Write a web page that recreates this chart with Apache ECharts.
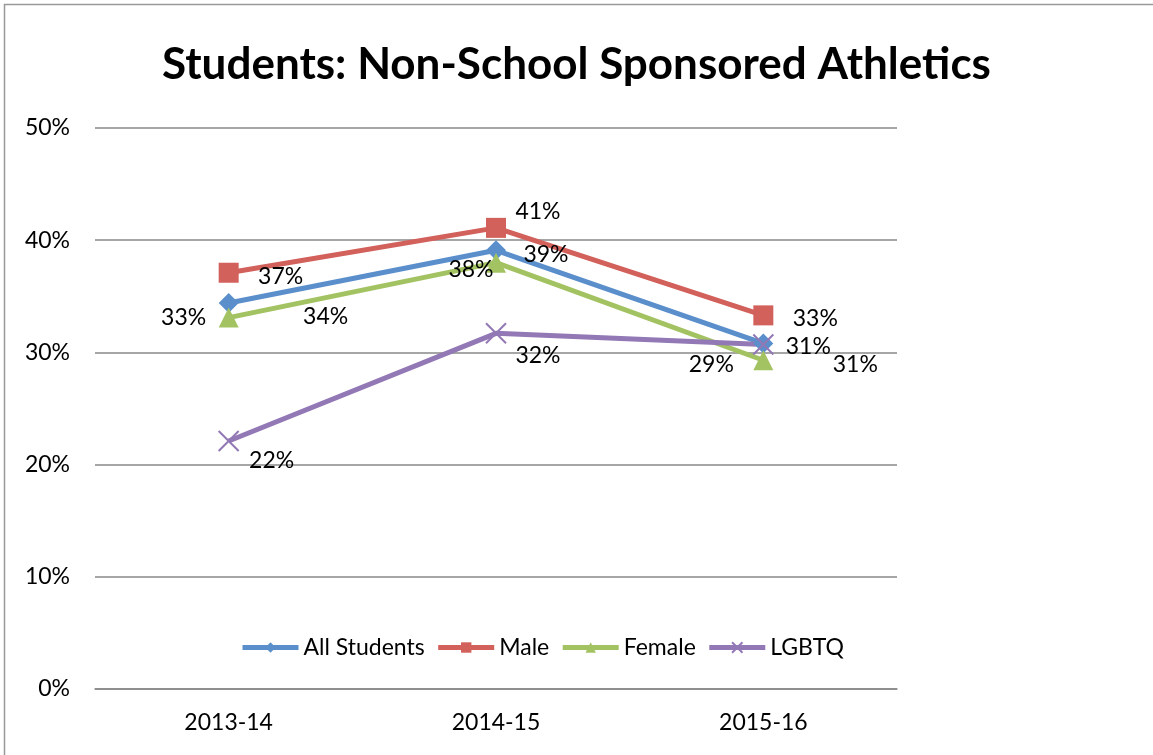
<!DOCTYPE html>
<html>
<head>
<meta charset="utf-8">
<script src="https://cdn.jsdelivr.net/npm/echarts@6/dist/echarts.min.js"></script>
<style>
  html, body { margin: 0; padding: 0; background: #fff; }
  #main { width: 1153px; height: 755px; }
</style>
</head>
<body>
<div id="main"></div>
<script>
// data
var years = ["2013-14", "2014-15", "2015-16"];
var allStudents = [34.4, 39.1, 30.8];
var male = [37.1, 41.1, 33.3];
var female = [33.1, 38.0, 29.3];
var lgbtq = [22.1, 31.7, 30.7];

// where each data label sits relative to its marker (px)
var allOffsets = [[97, 14], [50, 4], [45, 3]];
var maleOffsets = [[52, 4], [42, -16], [52, 3]];
var femaleOffsets = [[-45, 0], [-25, 7], [-52, 4]];
var lgbtqOffsets = [[43, 20], [42, 22], [92, 20]];

var font = "Lato, 'Open Sans', sans-serif";

function withLabels(values, offsets) {
  return values.map(function (v, i) {
    return { value: v, label: { offset: offsets[i] } };
  });
}

function lineSeries(name, values, offsets, color, symbol, size) {
  return {
    name: name,
    type: "line",
    data: withLabels(values, offsets),
    symbol: symbol,
    symbolSize: size,
    lineStyle: { color: color, width: 5 },
    itemStyle: { color: color, borderColor: color, borderWidth: symbol.indexOf("path") === 0 ? 2 : 0 },
    label: {
      show: true,
      position: "inside",
      color: "#000",
      fontSize: 23,
      fontFamily: font,
      formatter: function (p) { return Math.round(p.value) + "%"; }
    },
    emphasis: { disabled: true },
    animation: false
  };
}

var myChart = echarts.init(document.getElementById("main"));
var option = {
  backgroundColor: "#fff",
  title: {
    text: "Students: Non-School Sponsored Athletics",
    left: "center",
    top: 38,
    textStyle: { fontSize: 44, fontWeight: "bold", fontFamily: font, color: "#000" }
  },
  legend: {
    left: 235,
    top: 631,
    itemWidth: 56,
    itemHeight: 13,
    itemGap: 11,
    lineStyle: { width: 5 },
    textStyle: { fontSize: 23, fontFamily: font, color: "#000" },
    data: ["All Students", "Male", "Female", "LGBTQ"]
  },
  grid: { left: 95, right: 256, top: 128, bottom: 66 },
  xAxis: {
    type: "category",
    data: years,
    boundaryGap: true,
    axisLine: { lineStyle: { color: "#888", width: 1.5 } },
    axisTick: { show: false },
    axisLabel: { fontSize: 23, fontFamily: font, color: "#000", margin: 22 }
  },
  yAxis: {
    type: "value",
    min: 0,
    max: 50,
    interval: 10,
    axisLine: { show: false },
    axisTick: { show: false },
    axisLabel: {
      fontSize: 23, fontFamily: font, color: "#000", margin: 25,
      formatter: "{value}%"
    },
    splitLine: { lineStyle: { color: "#888", width: 1.5 } }
  },
  graphic: [{
    type: "rect",
    shape: { x: 4.5, y: 4.5, width: 1200, height: 800 },
    style: { fill: null, stroke: "#999", lineWidth: 1.5 },
    silent: true
  }],
  series: [
    lineSeries("All Students", allStudents, allOffsets, "#5B8FCB", "diamond", 20),
    lineSeries("Male", male, maleOffsets, "#D2605B", "rect", 20),
    lineSeries("Female", female, femaleOffsets, "#A3C363", "triangle", 20),
    lineSeries("LGBTQ", lgbtq, lgbtqOffsets, "#9278B5", "path://M0,0L10,10M10,0L0,10", 20)
  ]
};
myChart.setOption(option);
</script>
</body>
</html>
